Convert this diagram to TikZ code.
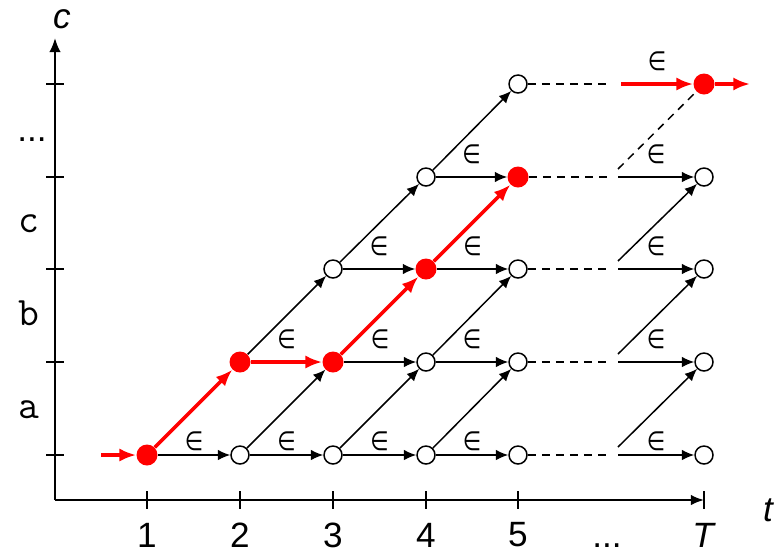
\documentclass[tikz,border=0pt]{standalone}
\usepackage{fontspec}
\setmainfont{Liberation Sans}
\newfontfamily\epsfont{DejaVu Sans}
\usetikzlibrary{arrows.meta}
\begin{document}
\begin{tikzpicture}[x=0.02cm,y=-0.02cm,
  open/.style={circle,draw=black,line width=0.85pt,fill=white,inner sep=0pt,minimum size=0.36cm},
  hot/.style={circle,fill=red,inner sep=0pt,minimum size=0.42cm},
  edge/.style={line width=0.85pt,-{Latex[length=7pt,width=6pt]}},
  redge/.style={line width=2pt,red,-{Latex[length=9.5pt,width=7.5pt]}},
  plain/.style={line width=0.85pt},
  dashline/.style={line width=0.85pt,dash pattern=on 4.5pt off 3.5pt},
  axis/.style={line width=1.1pt},
  eps/.style={font=\fontsize{15}{15}\epsfont,inner sep=0pt,text=black},
  elo/.style={eps,midway,yshift=8pt},
  ehi/.style={eps,midway,yshift=13pt},
  lab/.style={font=\fontsize{20}{24}\selectfont,inner sep=0pt},
  ylab/.style={font=\fontsize{23}{24}\ttfamily,inner sep=0pt},
]
\useasboundingbox (0,0) rectangle (783,549);
\newcommand{\epsy}{\scalebox{0.8}[1]{∈}}

% axes
\coordinate (O) at (55,500);
\coordinate (ytop) at (55,38);
\coordinate (xend) at (704,500);
\draw[axis,-{Latex[length=8pt,width=6.5pt]}] (O) -- (ytop);
\draw[axis,-{Latex[length=7.5pt,width=6pt]}] (O) -- (xend);
\foreach \x in {147,240,333,426,518,704} \draw[axis] (\x,491) -- (\x,509);
\foreach \y in {455,362,269,177,84} \draw[axis] (46,\y) -- (64,\y);

% axis labels
\node[lab] (l1) at (147,535) {1};
\node[lab] (l2) at (240,535) {2};
\node[lab] (l3) at (333,535) {3};
\node[lab] (l4) at (426,535) {4};
\node[lab] (l5) at (518,535) {5};
\node[lab,anchor=base] (ldots) at (607,547) {...};
\node[lab] (lT) at (703,535) {\itshape T};
\node[lab] (lt) at (768,510) {\itshape t};
\node[lab] (lc) at (62,19) {\itshape c};
\node[ylab] (ya) at (29,410) {a};
\node[ylab] (yb) at (29,313) {b};
\node[ylab] (yc) at (29,224) {c};
\node[lab,anchor=base] (ydots) at (32,141) {...};

% nodes row 0
\node[hot]  (n10) at (147,455) {};
\node[open] (n20) at (240,455) {};
\node[open] (n30) at (333,455) {};
\node[open] (n40) at (426,455) {};
\node[open] (n50) at (518,455) {};
\node[open] (n60) at (704,455) {};
% row 1
\node[hot]  (n21) at (240,362) {};
\node[hot]  (n31) at (333,362) {};
\node[open] (n41) at (426,362) {};
\node[open] (n51) at (518,362) {};
\node[open] (n61) at (704,362) {};
% row 2
\node[open] (n32) at (333,269) {};
\node[hot]  (n42) at (426,269) {};
\node[open] (n52) at (518,269) {};
\node[open] (n62) at (704,269) {};
% row 3
\node[open] (n43) at (426,177) {};
\node[hot]  (n53) at (518,177) {};
\node[open] (n63) at (704,177) {};
% row 4
\node[open] (n54) at (518,84) {};
\node[hot]  (n64) at (704,84) {};

% horizontal edges
\draw[edge] (n10) -- node[elo]{\epsy} (n20);
\draw[edge] (n20) -- node[elo]{\epsy} (n30);
\draw[edge] (n30) -- node[elo]{\epsy} (n40);
\draw[edge] (n40) -- node[elo]{\epsy} (n50);
\draw[redge] (n21) -- node[ehi]{\epsy} (n31);
\draw[edge] (n31) -- node[ehi]{\epsy} (n41);
\draw[edge] (n41) -- node[ehi]{\epsy} (n51);
\draw[edge] (n32) -- node[ehi]{\epsy} (n42);
\draw[edge] (n42) -- node[ehi]{\epsy} (n52);
\draw[edge] (n43) -- node[ehi]{\epsy} (n53);

% diagonal edges
\draw[redge] (n10) -- (n21);
\draw[edge] (n20) -- (n31);
\draw[edge] (n30) -- (n41);
\draw[edge] (n40) -- (n51);
\draw[edge] (n21) -- (n32);
\draw[redge] (n31) -- (n42);
\draw[edge] (n41) -- (n52);
\draw[edge] (n32) -- (n43);
\draw[redge] (n42) -- (n53);
\draw[edge] (n43) -- (n54);

% dashed continuations
\foreach \r/\y in {0/455,1/362,2/269,3/177,4/84} {
  \coordinate (d\r) at (612,\y);
  \coordinate (s\r) at (618,\y);
  \coordinate (g\r) at (618,\y-8);
  \draw[dashline] (n5\r) -- (d\r);
}
\draw[edge] (s0) -- node[elo]{\epsy} (n60);
\draw[edge] (s1) -- node[ehi]{\epsy} (n61);
\draw[edge] (s2) -- node[ehi]{\epsy} (n62);
\draw[edge] (s3) -- node[ehi]{\epsy} (n63);
\coordinate (r4) at (621,84);
\draw[redge] (r4) -- node[ehi]{\epsy} (n64);
\draw[edge] (g0) -- (n61);
\draw[edge] (g1) -- (n62);
\draw[edge] (g2) -- (n63);
\draw[dashline] (g3) -- (n64);

% in and out
\coordinate (in) at (101,455);
\coordinate (out) at (750,84);
\draw[redge] (in) -- (n10);
\draw[redge] (n64) -- (out);
\end{tikzpicture}
\end{document}
